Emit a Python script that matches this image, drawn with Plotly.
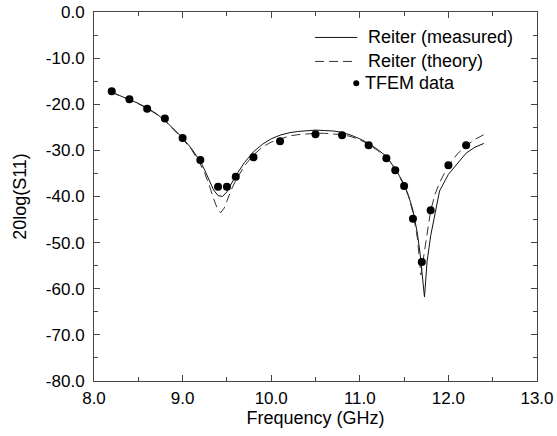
import plotly.graph_objects as go

# Reiter (measured) - solid
freq_meas = [8.2, 8.3, 8.4, 8.5, 8.6, 8.7, 8.8, 8.9, 9.0, 9.1, 9.2, 9.25, 9.3, 9.35,
             9.4, 9.45, 9.5, 9.55, 9.6, 9.7, 9.8, 9.9, 10.0, 10.1, 10.2, 10.3, 10.4,
             10.5, 10.6, 10.7, 10.8, 10.9, 11.0, 11.1, 11.2, 11.3, 11.4, 11.5, 11.55,
             11.6, 11.65, 11.68, 11.73, 11.76, 11.8, 11.83, 11.9, 12.0, 12.05, 12.1,
             12.2, 12.3, 12.4]
s11_meas = [-17.4, -18.2, -19.0, -19.8, -20.8, -22.0, -23.5, -25.3, -27.3, -29.6, -32.4,
            -34.3, -36.5, -38.6, -39.8, -40.0, -39.0, -37.3, -35.5, -32.6, -30.3, -28.7,
            -27.5, -26.7, -26.2, -25.9, -25.7, -25.6, -25.7, -25.8, -26.1, -26.7, -27.5,
            -28.5, -29.8, -31.3, -34.0, -37.3, -39.8, -43.0, -48.0, -52.3, -61.8, -54.0,
            -48.5, -45.5, -38.8, -35.2, -34.0, -32.8, -30.6, -29.3, -28.5]

# Reiter (theory) - dashed
freq_theory = [8.2, 8.3, 8.4, 8.5, 8.6, 8.7, 8.8, 8.9, 9.0, 9.1, 9.2, 9.25, 9.3, 9.35,
               9.4, 9.43, 9.47, 9.5, 9.55, 9.6, 9.7, 9.8, 9.9, 10.0, 10.1, 10.2, 10.3,
               10.4, 10.5, 10.6, 10.7, 10.8, 10.9, 11.0, 11.1, 11.2, 11.3, 11.4, 11.5,
               11.55, 11.6, 11.65, 11.69, 11.72, 11.75, 11.8, 11.85, 11.9, 12.0, 12.1,
               12.2, 12.3, 12.4]
s11_theory = [-17.4, -18.2, -19.0, -19.9, -20.9, -22.1, -23.6, -25.5, -27.5, -29.8, -33.0,
              -35.0, -37.5, -40.5, -43.0, -43.5, -42.5, -41.0, -38.5, -36.5, -33.3, -31.0,
              -29.3, -28.2, -27.5, -26.9, -26.6, -26.4, -26.3, -26.3, -26.4, -26.6, -27.0,
              -27.7, -28.7, -30.0, -31.6, -34.1, -37.6, -40.0, -43.5, -49.0, -57.0, -53.0,
              -49.5, -43.0, -39.5, -37.0, -33.3, -30.8, -29.0, -27.6, -26.6]

# TFEM data - dots
freq_tfem = [8.2, 8.4, 8.6, 8.8, 9.0, 9.2, 9.4, 9.5, 9.6, 9.8, 10.1, 10.5, 10.8, 11.1,
             11.3, 11.4, 11.5, 11.6, 11.7, 11.8, 12.0, 12.2]
s11_tfem = [-17.2, -18.9, -21.0, -23.1, -27.3, -32.1, -37.9, -37.9, -35.7, -31.5, -28.0,
            -26.5, -26.7, -28.9, -31.7, -34.3, -37.7, -44.8, -54.2, -43.0, -33.2, -28.9]

x_ticks = [8.0, 9.0, 10.0, 11.0, 12.0, 13.0]
y_ticks = [0, -10, -20, -30, -40, -50, -60, -70, -80]

series_names = ["Reiter (measured)", "Reiter (theory)", "TFEM data"]

FONT = "Liberation Sans, Arial, Helvetica, sans-serif"
SOLID = "#111111"
DASHED = "#333333"
DASH = "9px,5px"

fig = go.Figure()
fig.add_trace(go.Scatter(x=freq_meas, y=s11_meas, mode="lines", name=series_names[0],
                         line=dict(color=SOLID, width=1), showlegend=False))
fig.add_trace(go.Scatter(x=freq_theory, y=s11_theory, mode="lines", name=series_names[1],
                         line=dict(color=DASHED, width=1, dash=DASH), showlegend=False))
fig.add_trace(go.Scatter(x=freq_tfem, y=s11_tfem, mode="markers", name=series_names[2],
                         marker=dict(color="black", size=8), showlegend=False))

axis_common = dict(showgrid=False, zeroline=False, showline=True, linecolor="#444444",
                   linewidth=1, mirror="ticks", ticks="inside", ticklen=6,
                   tickcolor="#444444", automargin=False,
                   tickfont=dict(size=17, color="black", family=FONT))

fig.update_xaxes(range=[8.0, 13.0], tickvals=x_ticks,
                 ticktext=[f"{v:.1f}" for v in x_ticks],
                 ticklabelstandoff=2,
                 minor=dict(dtick=0.5, ticks="inside", ticklen=4, tickcolor="#444444"),
                 title=dict(text="Frequency (GHz)", font=dict(size=18, family=FONT, color="black"),
                            standoff=2),
                 **axis_common)
fig.update_yaxes(range=[-80, 0], tickvals=y_ticks,
                 ticktext=[f"{v:.1f}" for v in y_ticks],
                 ticklabelstandoff=5,
                 minor=dict(dtick=5, ticks="inside", ticklen=4, tickcolor="#444444"),
                 title=dict(text="20log(S11)", font=dict(size=18, family=FONT, color="black"),
                            standoff=14),
                 **axis_common)

# Manual legend (paper coordinates)
leg_x0, leg_x1 = 0.499, 0.594
leg_text_x = 0.614
leg_rows = [0.931, 0.866, 0.807]
fig.add_shape(type="line", xref="paper", yref="paper", x0=leg_x0, x1=leg_x1,
              y0=leg_rows[0], y1=leg_rows[0], line=dict(color=SOLID, width=1))
fig.add_shape(type="line", xref="paper", yref="paper", x0=leg_x0, x1=leg_x1,
              y0=leg_rows[1], y1=leg_rows[1], line=dict(color=DASHED, width=1, dash=DASH))
fig.add_shape(type="circle", xref="paper", yref="paper", xsizemode="pixel", ysizemode="pixel",
              xanchor=0.592, yanchor=leg_rows[2], x0=-3, x1=3, y0=-3, y1=3,
              fillcolor="black", line=dict(color="black", width=0))
for i, name in enumerate(series_names):
    fig.add_annotation(x=leg_text_x if i < 2 else 0.608, y=leg_rows[i], xref="paper", yref="paper",
                       text=name, showarrow=False, xanchor="left", yanchor="middle",
                       font=dict(size=18, family=FONT, color="black"))

fig.update_layout(
    width=557, height=436,
    margin=dict(l=94, r=20, t=12, b=55),
    paper_bgcolor="white", plot_bgcolor="white",
    font=dict(family=FONT, color="black"),
    showlegend=False,
)

fig.write_html("out.html")
